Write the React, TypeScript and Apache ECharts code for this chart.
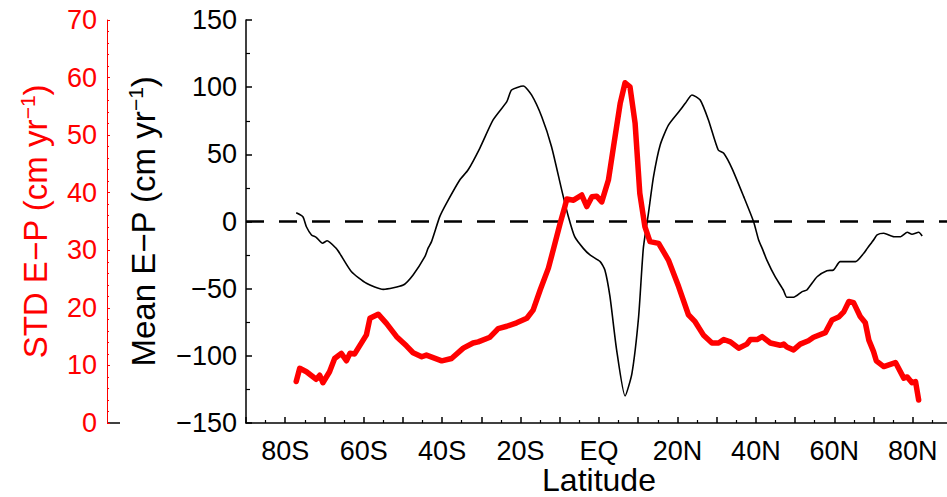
import React, { useEffect, useRef } from "react";
import * as echarts from "echarts";

// Latitude tick labels
const latTicks = [-80, -60, -40, -20, 0, 20, 40, 60, 80];
const latLabels = ["80S", "60S", "40S", "20S", "EQ", "20N", "40N", "60N", "80N"];

// Mean E-P (cm/yr) vs latitude
const meanLat = [
  -77.2, -75.5, -74.6, -73.3, -72.1, -70.5, -69.3, -67.0, -66.1, -63.1, -59.3, -55.0, -49.9, -47.4, -44.4,
  -43.6, -42.7, -40.6, -38.9, -35.5, -33.4, -30.4, -27.0, -23.5, -22.3, -19.3, -17.2, -14.6, -12.1, -9.5,
  -7.8, -6.2, -4.0, -2.3, 0.3, 1.5, 2.8, 4.5, 6.65, 8.4, 10.1, 11.3, 12.6, 13.9, 15.6, 17.7, 20.7, 22.0,
  23.7, 25.8, 27.9, 30.4, 31.8, 33.9, 36.9, 39.4, 40.7, 41.6, 42.8, 44.9, 47.0, 47.9, 49.6, 51.8, 53.0,
  55.6, 58.1, 59.8, 61.5, 65.4, 67.5, 68.4, 70.0, 70.9, 72.6, 75.2, 76.9, 78.6, 79.8, 81.5, 82.4,
];
const meanVal = [
  6.5, 3.6, -3.9, -10, -11.8, -16.2, -14.3, -20, -23.7, -37.4, -46, -50.5, -47.3, -39.8, -26.2,
  -20, -15, 3.6, 13.5, 30.9, 38.3, 54.5, 75.6, 89.2, 97.9, 100.9, 94.2, 78, 55.7, 23.4,
  3.6, -11.3, -20, -24.9, -29.9, -36.1, -56, -95.7, -129.9, -113, -70.9, -20, 6.1, 33.4, 57, 71.8, 83, 88,
  94.2, 90.4, 75.6, 53.2, 50.8, 39.6, 18.5, 0, -13.8, -20, -28.7, -41.1, -51, -56.4, -56.4, -52.2, -51,
  -41.1, -36.6, -36.1, -29.9, -29.9, -23.7, -20, -13.8, -10, -8.8, -11.3, -11.3, -8, -9.5, -8, -10.8,
];

// STD E-P (cm/yr) vs latitude
const stdLat = [
  -77.2, -76.3, -74.6, -72.1, -71.2, -70.4, -68.7, -67.4, -65.7, -64.4, -63.5, -62.3, -59.3, -58.4, -56.3,
  -54.2, -51.6, -49.1, -47.4, -45.2, -44.0, -40.1, -37.6, -34.6, -32.1, -30.8, -27.8, -25.7, -23.5, -21.0,
  -18.4, -16.8, -15.0, -12.9, -11.5, -9.9, -8.7, -8.2, -6.5, -4.4, -3.1, -1.8, -0.6, 0.7, 2.4, 3.7, 5.4,
  6.65, 7.9, 9.2, 10.4, 11.7, 13.0, 15.2, 17.7, 20.3, 22.8, 24.5, 26.6, 28.8, 30.5, 31.8, 33.5, 35.6, 37.7,
  38.6, 40.3, 41.6, 43.7, 46.2, 47.1, 47.9, 49.6, 51.3, 53.4, 54.7, 57.7, 59.4, 61.1, 62.4, 63.7, 64.9,
  66.6, 67.9, 68.8, 70.0, 70.7, 72.6, 73.9, 75.6, 77.7, 78.6, 79.8, 80.7, 81.5,
];
const stdVal = [
  7.2, 9.5, 8.9, 7.6, 8.3, 7.0, 8.9, 11.2, 12.1, 10.8, 12.1, 12.0, 15.3, 18.2, 18.9,
  17.3, 15.0, 13.4, 12.2, 11.5, 11.8, 10.8, 11.2, 13.0, 13.9, 14.1, 14.9, 16.4, 16.8, 17.4,
  18.2, 19.6, 23.1, 26.9, 30.5, 34.7, 37.6, 38.9, 38.7, 39.6, 37.6, 39.3, 39.4, 38.4, 42.2, 48.0, 55.5,
  59.1, 58.4, 52.1, 39.9, 34.1, 31.5, 31.2, 28.3, 23.7, 18.8, 17.6, 15.3, 13.9, 13.9, 14.5, 14.1, 13.0, 13.7,
  14.5, 14.5, 15.0, 13.9, 13.5, 13.7, 13.2, 12.7, 13.7, 14.3, 14.9, 15.7, 17.9, 18.4, 19.3, 21.1, 20.9,
  18.5, 17.4, 14.4, 12.4, 10.8, 9.8, 10.1, 10.5, 7.8, 8.0, 7.0, 7.2, 4.0,
];

// zero reference line
const zeroLat = [-90, 90];
const zeroVal = [0, 0];

const FONT = "'Liberation Sans', Arial, Helvetica, sans-serif";
const NAME_SIZE = 33;
const SUP_SIZE = 21;
const LABEL_SIZE = 27;

export default function App() {
  const ref = useRef<HTMLDivElement>(null);
  useEffect(() => {
    if (!ref.current) return;
    const chart = echarts.init(ref.current, null, { renderer: "svg" });
    const zip = (a: number[], b: number[]) => a.map((v, i) => [v, b[i]]);
    const richName = (color: string) => ({
      color,
      fontFamily: FONT,
      rich: {
        a: { fontSize: NAME_SIZE, color, fontFamily: FONT, verticalAlign: "bottom" },
        s: { fontSize: SUP_SIZE, color, fontFamily: FONT, verticalAlign: "top", padding: [0, 0, 14, 0] },
      },
    });
    chart.setOption({
      animation: false,
      backgroundColor: "#ffffff",
      textStyle: { fontFamily: FONT },
      grid: {
        left: 246,
        top: 20,
        width: 706,
        height: 403,
        containLabel: false,
        outerBoundsMode: "none",
      },
      xAxis: {
        type: "value",
        min: -90,
        max: 90,
        interval: 10,
        name: "Latitude",
        nameLocation: "middle",
        nameGap: 43,
        nameMoveOverlap: false,
        nameTextStyle: { color: "#000", fontSize: 32, lineHeight: 28, fontFamily: FONT },
        axisLine: { show: true, onZero: false, lineStyle: { color: "#000", width: 1.5 } },
        axisTick: { show: true, inside: true, length: 6, lineStyle: { color: "#000", width: 1.5 } },
        minorTick: { show: true, splitNumber: 2, length: 3, lineStyle: { color: "#000", width: 1.2 } },
        splitLine: { show: false },
        axisLabel: {
          color: "#000",
          fontSize: LABEL_SIZE,
          fontFamily: FONT,
          margin: 14,
          showMinLabel: true,
          showMaxLabel: true,
          formatter: (v: number) => {
            const i = latTicks.indexOf(Math.round(v));
            return i >= 0 ? latLabels[i] : "";
          },
        },
      },
      yAxis: [
        {
          type: "value",
          min: -150,
          max: 150,
          interval: 50,
          position: "left",
          name: "{a|Mean E\u2212P (cm yr}{s|\u22121}{a|)}",
          nameLocation: "middle",
          nameGap: 86,
          nameTextStyle: richName("#000"),
          axisLine: { show: true, onZero: false, lineStyle: { color: "#000", width: 1.5 } },
          axisTick: { show: true, inside: true, length: 6, lineStyle: { color: "#000", width: 1.5 } },
          minorTick: { show: true, splitNumber: 2, length: 4, lineStyle: { color: "#000", width: 1.2 } },
          splitLine: { show: false },
          axisLabel: {
            color: "#000",
            fontSize: LABEL_SIZE,
            fontFamily: FONT,
            margin: 9,
            formatter: (v: number) => (v < 0 ? "\u2212" + Math.abs(v) : String(v)),
          },
        },
        {
          type: "value",
          min: 0,
          max: 70,
          interval: 10,
          position: "left",
          offset: 139,
          name: "{a|STD E\u2212P (cm yr}{s|\u22121}{a|)}",
          nameLocation: "middle",
          nameGap: 55,
          nameTextStyle: richName("#ff0000"),
          axisLine: { show: true, onZero: false, lineStyle: { color: "#ff0000", width: 1 } },
          axisTick: { show: true, inside: true, length: 3, lineStyle: { color: "#ff0000", width: 1 } },
          minorTick: { show: true, splitNumber: 5, length: 2, lineStyle: { color: "#ff0000", width: 1 } },
          splitLine: { show: false },
          axisLabel: { color: "#ff0000", fontSize: LABEL_SIZE, fontFamily: FONT, margin: 10 },
        },
      ],
      graphic: [
        {
          type: "line",
          shape: { x1: 107, y1: 423, x2: 120, y2: 423 },
          style: { stroke: "#000", lineWidth: 1.5 },
        },
      ],
      series: [
        {
          type: "line",
          yAxisIndex: 0,
          data: zip(zeroLat, zeroVal),
          showSymbol: false,
          silent: true,
          lineStyle: { color: "#000", width: 2.5, type: [18, 15] },
          z: 1,
        },
        {
          type: "line",
          yAxisIndex: 0,
          data: zip(meanLat, meanVal),
          showSymbol: false,
          smooth: 0.2,
          lineStyle: { color: "#000", width: 1.6 },
          z: 2,
        },
        {
          type: "line",
          yAxisIndex: 1,
          data: zip(stdLat, stdVal),
          showSymbol: false,
          lineStyle: { color: "#ff0000", width: 5.5, join: "round", cap: "round" },
          z: 3,
        },
      ],
    });
    return () => chart.dispose();
  }, []);
  return (
    <div
      ref={ref}
      style={{ position: "absolute", left: 0, top: 0, width: 947, height: 497, background: "#fff" }}
    />
  );
}
